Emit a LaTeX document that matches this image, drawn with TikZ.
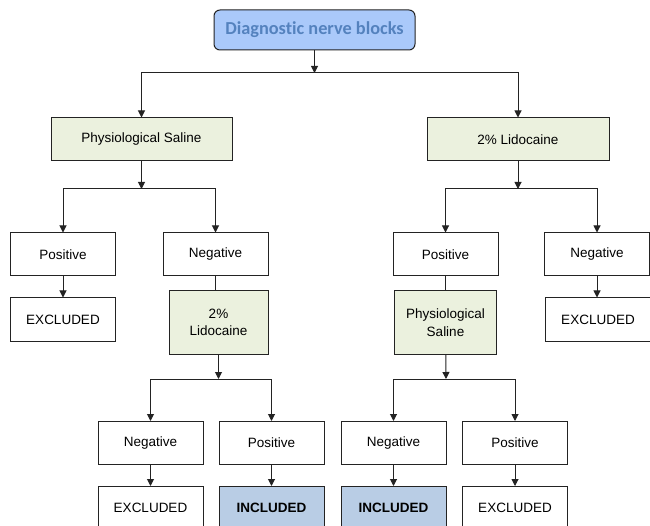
\documentclass[tikz,border=0pt]{standalone}
\usepackage{fontspec}
\setmainfont{Liberation Sans}
\newfontfamily\titlefont[Ligatures=NoCommon]{Carlito}
\usepackage{tikz}
\usetikzlibrary{arrows.meta,positioning}
\definecolor{titlefill}{RGB}{170,201,250}
\definecolor{titletext}{RGB}{84,130,190}
\definecolor{drugfill}{RGB}{235,241,222}
\definecolor{inclfill}{RGB}{185,205,229}
\definecolor{edge}{RGB}{35,35,35}
\tikzstyle{title} = [rectangle, draw=edge, line width=1pt, fill=titlefill, rounded corners=6pt, minimum width=201pt, minimum height=40pt, text=titletext, font=\titlefont\bfseries\fontsize{18.3}{20}\selectfont]
\tikzstyle{treatment} = [rectangle, draw=edge, line width=1pt, fill=drugfill, minimum height=43pt, text centered, font=\fontsize{13.5}{17.5}\selectfont]
\tikzstyle{response} = [rectangle, draw=edge, line width=1pt, minimum width=105pt, minimum height=43pt, text centered, font=\fontsize{13.5}{17.5}\selectfont]
\tikzstyle{outcome} = [response]
\tikzstyle{included} = [response, fill=inclfill, font=\bfseries\fontsize{13.5}{17.5}\selectfont]
\tikzstyle{connector} = [line width=1pt, draw=edge, -{Triangle[length=7pt,width=7pt]}]
\tikzstyle{link} = [line width=1pt, draw=edge]
\begin{document}
\begin{tikzpicture}[x=1pt, y=-1pt, node distance=65pt]
            \useasboundingbox (0,0) rectangle (650,526);
            \node (diag) [title] at (314.5,30) {Diagnostic nerve blocks};
            \node (saline) [treatment, minimum width=181pt] at (141.5,139.5) {Physiological Saline};
            \node (lido) [treatment, minimum width=182pt] at (518,139.5) {2\% Lidocaine};
            % first block: saline
            \node (salPos) [response] at (63,254.5) {Positive};
            \node (salNeg) [response] at (215.5,254.5) {Negative};
            \node (salPosOut) [outcome, below of = salPos] {EXCLUDED};
            \node (salLido) [treatment, below of = salNeg, yshift = -3pt, xshift = 3pt, minimum width=99pt, minimum height=63pt, align=center] {2\%\\Lidocaine};
            % first block: lidocaine
            \node (lidoPos) [response] at (445.5,254.5) {Positive};
            \node (lidoNeg) [response] at (597,254.5) {Negative};
            \node (lidoNegOut) [outcome, below of = lidoNeg, xshift = 1pt] {EXCLUDED};
            \node (lidoSal) [treatment, below of = lidoPos, yshift = -3pt, minimum width=102pt, minimum height=63pt, align=center] {Physiological\\Saline};
            % second block
            \node (lidoNeg2) [response] at (150.5,443) {Negative};
            \node (lidoPos2) [response] at (271.5,443) {Positive};
            \node (lidoNeg2Out) [outcome, below of = lidoNeg2] {EXCLUDED};
            \node (lidoPos2Out) [included, below of = lidoPos2] {INCLUDED};
            \node (salNeg2) [response] at (393.5,443) {Negative};
            \node (salPos2) [response] at (515,443) {Positive};
            \node (salNeg2Out) [included, below of = salNeg2] {INCLUDED};
            \node (salPos2Out) [outcome, below of = salPos2] {EXCLUDED};
            % branch points
            \coordinate (split0) at (314.5,73);
            \coordinate (split1) at (141.5,189);
            \coordinate (split2) at (518,189);
            \coordinate (split3) at (218.5,379);
            \coordinate (split4) at (446,379);
            \draw [connector] (diag) -- (split0);
            \draw [connector] (split0) -| (saline);
            \draw [connector] (split0) -| (lido);
            \draw [connector] (saline) -- (split1);
            \draw [connector] (split1) -| (salPos);
            \draw [connector] (split1) -| (salNeg);
            \draw [connector] (salPos) -- (salPosOut);
            \draw [link] (salNeg) -- (salNeg |- salLido.north);
            \draw [connector] (lido) -- (split2);
            \draw [connector] (split2) -| (lidoPos);
            \draw [connector] (split2) -| (lidoNeg);
            \draw [connector] (lidoNeg) -- (lidoNeg |- lidoNegOut.north);
            \draw [link] (lidoPos) -- (lidoSal);
            \draw [connector] (salLido) -- (split3);
            \draw [connector] (split3) -| (lidoNeg2);
            \draw [connector] (split3) -| (lidoPos2);
            \draw [connector] (lidoNeg2) -- (lidoNeg2Out);
            \draw [connector] (lidoPos2) -- (lidoPos2Out);
            \draw [connector] (lidoSal) -- (split4);
            \draw [connector] (split4) -| (salNeg2);
            \draw [connector] (split4) -| (salPos2);
            \draw [connector] (salNeg2) -- (salNeg2Out);
            \draw [connector] (salPos2) -- (salPos2Out);
        \end{tikzpicture}
\end{document}
